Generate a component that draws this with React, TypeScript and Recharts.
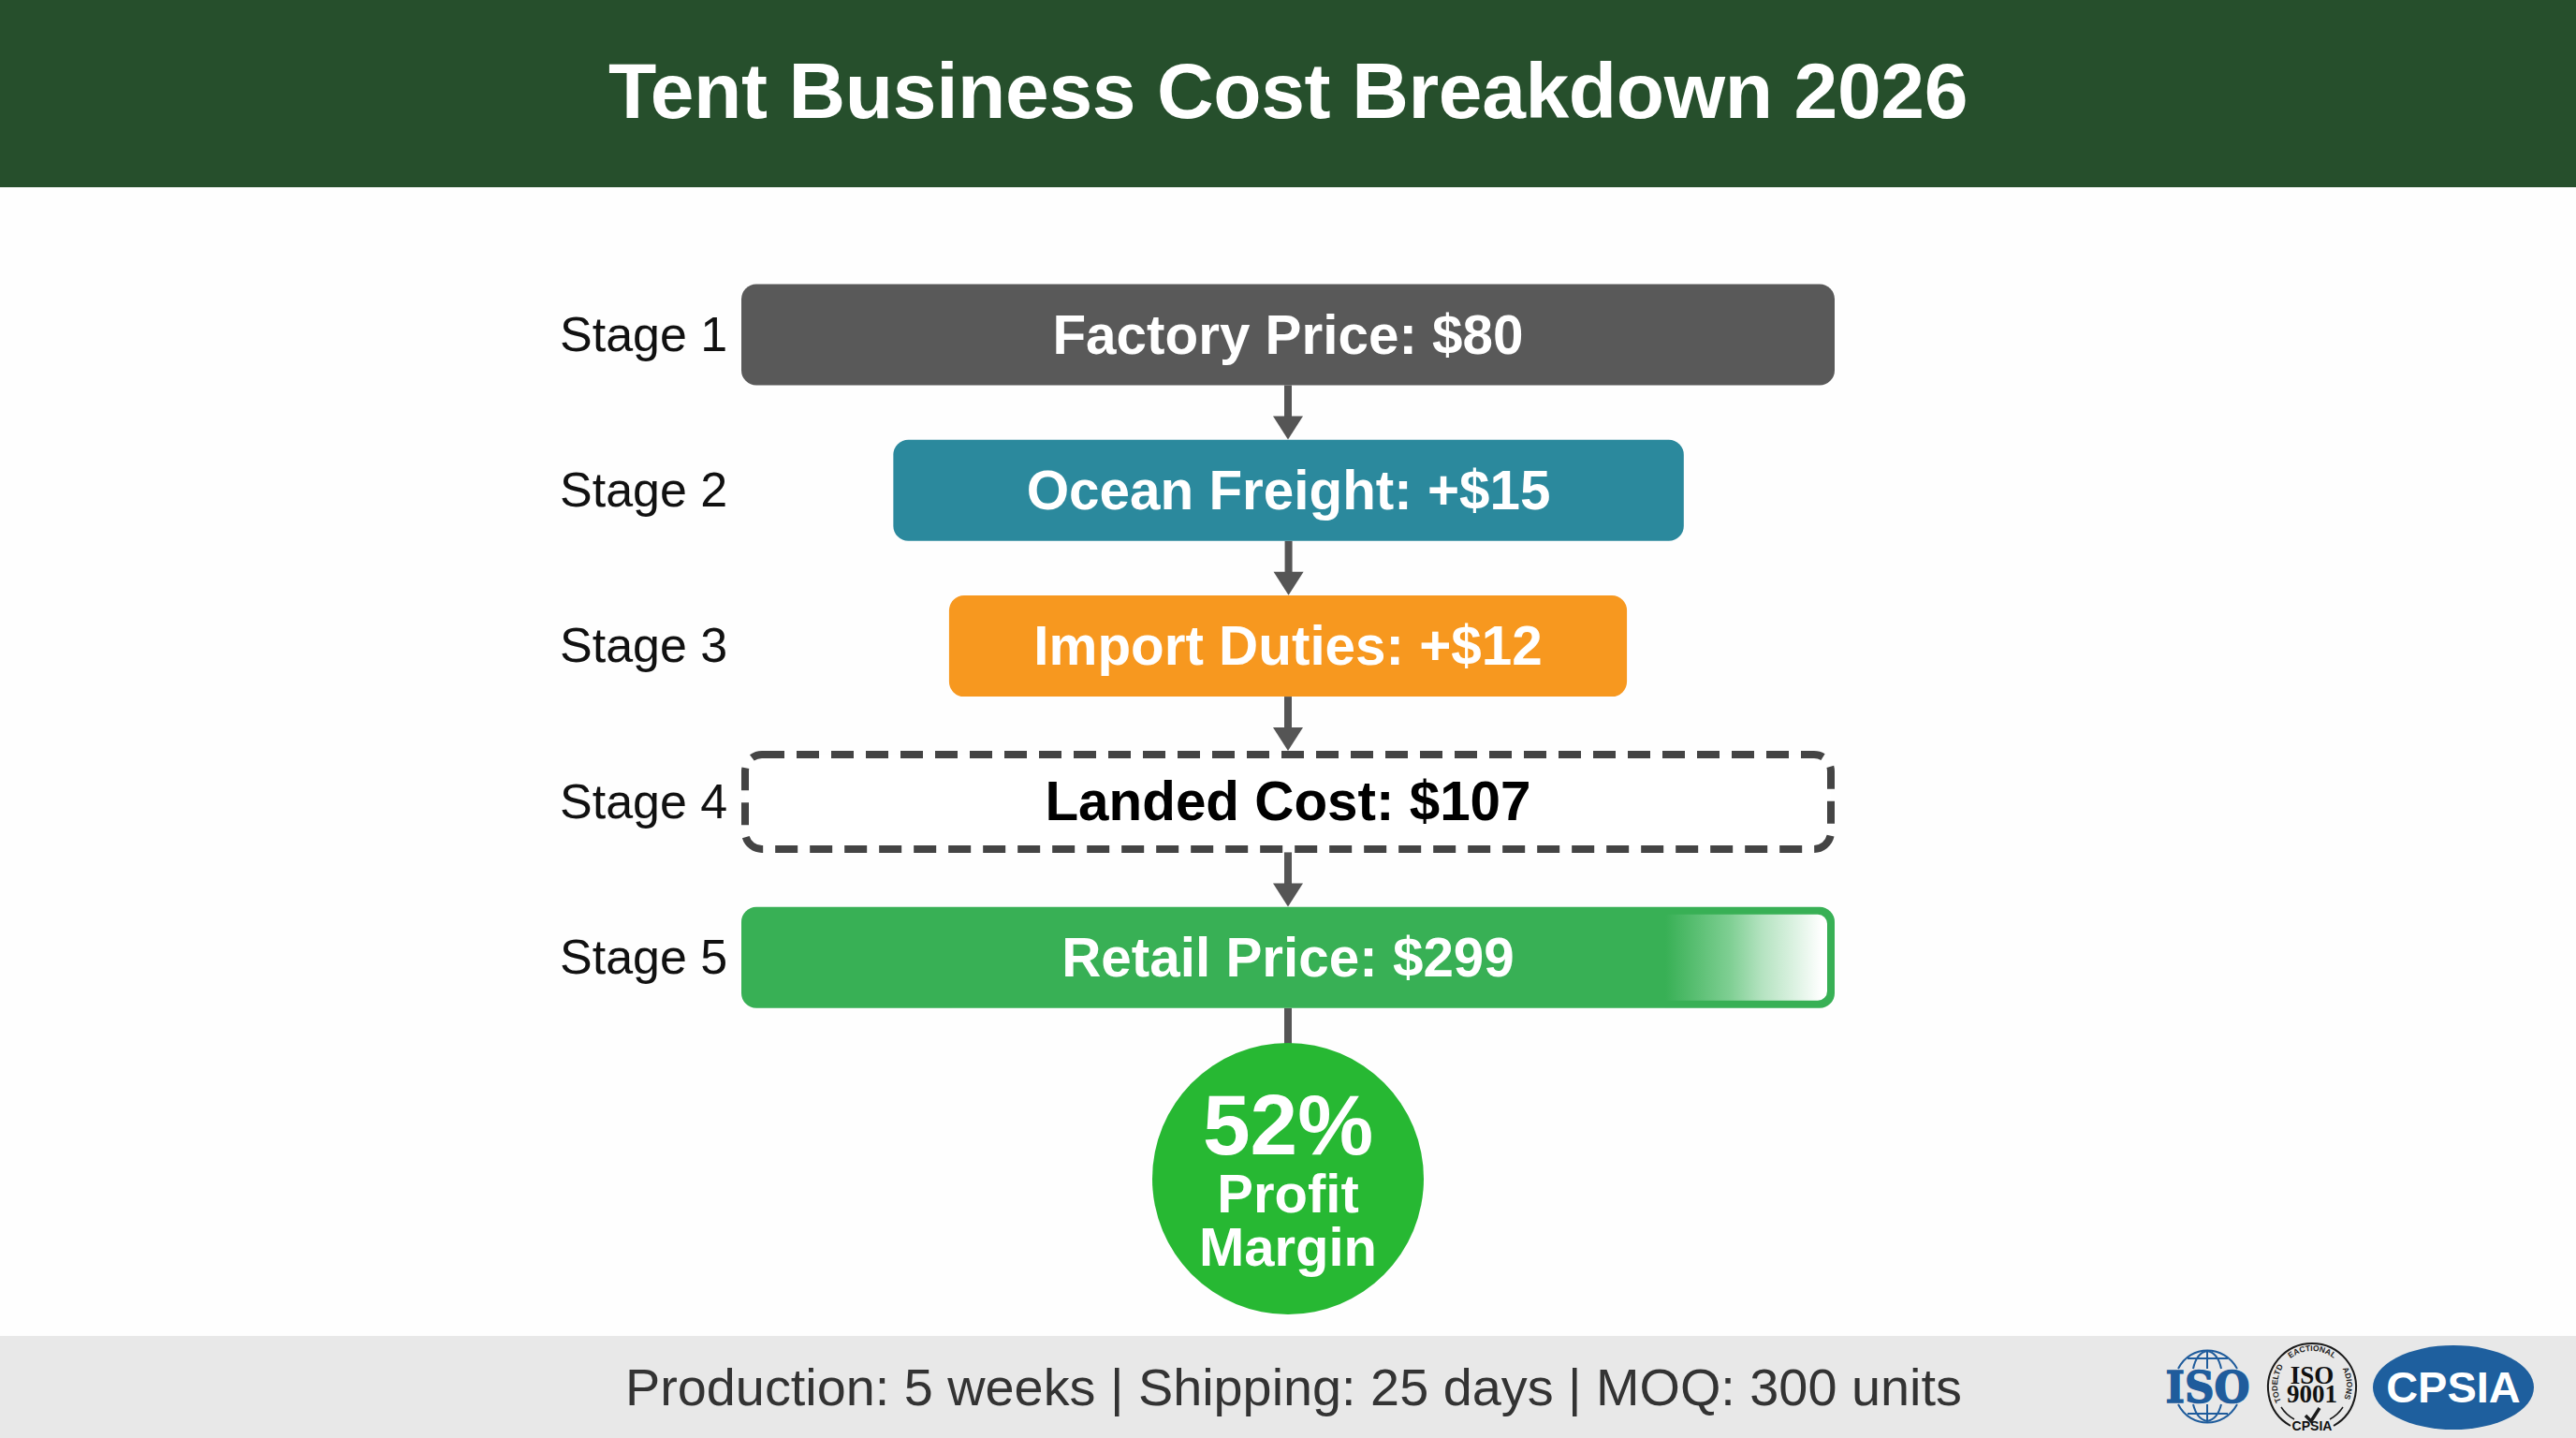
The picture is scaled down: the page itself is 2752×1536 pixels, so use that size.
import React from 'react';
import { BarChart, Bar, XAxis, YAxis, LabelList } from 'recharts';

const stages = ['Stage 1', 'Stage 2', 'Stage 3', 'Stage 4', 'Stage 5'];
const barLabels = ['Factory Price: $80', 'Ocean Freight: +$15', 'Import Duties: +$12', 'Landed Cost: $107', 'Retail Price: $299'];
// bars are centred, so each one runs from barStart to barEnd on a 0-100 scale
const barStart = [0, 13.9, 19, 0, 0];
const barEnd = [100, 86.2, 81, 100, 100];

const chartData = stages.map((stage, i) => ({
  stage,
  label: barLabels[i],
  span: [barStart[i], barEnd[i]],
}));

const FONT = '"Liberation Sans", Arial, sans-serif';
const barFills = ['#595959', '#2b899d', '#f7981f', '#ffffff', '#38b055'];
const labelColors = ['#ffffff', '#ffffff', '#ffffff', '#000000', '#ffffff'];
const LINE = '#555555';
const GAP = 58;

function StageBar(props: any) {
  const { x, y, width, height, index } = props;
  const cx = x + width / 2;
  const bottom = y + height;
  const isLast = index === stages.length - 1;

  return (
    <g>
      {isLast ? (
        <line x1={cx} x2={cx} y1={bottom} y2={bottom + 40} stroke={LINE} strokeWidth={8} />
      ) : (
        <g>
          <line x1={cx} x2={cx} y1={bottom} y2={bottom + GAP - 20} stroke={LINE} strokeWidth={8} />
          <path d={`M${cx - 16} ${bottom + GAP - 25}H${cx + 16}L${cx} ${bottom + GAP}Z`} fill={LINE} />
        </g>
      )}
      {index === 3 ? (
        <rect x={x + 4} y={y + 3.5} width={width - 8} height={height - 7} rx={18} fill="#ffffff"
          stroke="#444444" strokeWidth={8} strokeDasharray="24 13" />
      ) : (
        <rect x={x} y={y} width={width} height={height} rx={16} fill={barFills[index]} />
      )}
      {isLast && (
        <rect x={x + 8} y={y + 8} width={width - 16} height={height - 16} rx={10} fill="url(#retailFade)" />
      )}
    </g>
  );
}

function StageTick(props: any) {
  const { x, y, payload } = props;
  return (
    <text x={x - 186} y={y} dy={17} fontFamily={FONT} fontSize={52} fill="#111111" textAnchor="start">
      {payload.value}
    </text>
  );
}

function BarText(props: any) {
  const { x, y, width, height, value, index } = props;
  return (
    <text x={x + width / 2} y={y + height / 2} dy={20} textAnchor="middle" fontFamily={FONT}
      fontWeight={700} fontSize={58.4} fill={labelColors[index]}>
      {value}
    </text>
  );
}

function IsoLogo() {
  const blue = '#1f5c9c';
  return (
    <svg style={{ position: 'absolute', left: 2300, top: 1430 }} width={120} height={100} viewBox="2300 1430 120 100">
      <g fill="none" stroke={blue} strokeWidth={2}>
        <path d="M2327 1462C2340 1436 2376 1436 2390 1462" />
        <path d="M2343 1462C2346 1448 2352 1444 2358 1443C2364 1444 2370 1448 2373 1462" />
        <path d="M2358 1443V1462M2337 1451H2380" />
        <path d="M2327 1500C2340 1526 2376 1526 2390 1500" />
        <path d="M2343 1500C2346 1512 2352 1517 2358 1518C2364 1517 2370 1512 2373 1500" />
        <path d="M2358 1500V1518M2337 1510H2380" />
      </g>
      <text x={2358.5} y={1498} textAnchor="middle" fontFamily='"DejaVu Serif", serif' fontWeight={700}
        fontSize={47} fill={blue} stroke={blue} strokeWidth={1.5} textLength={90} lengthAdjust="spacingAndGlyphs">ISO</text>
    </svg>
  );
}

function SealLogo() {
  const ringText = { fontFamily: FONT, fontSize: 8.5, fontWeight: 700, fill: '#222222' };
  return (
    <svg style={{ position: 'absolute', left: 2415, top: 1428 }} width={110} height={108} viewBox="2415 1428 110 108">
      <defs>
        <path id="sealLeft" d="M2439.7 1501.2A37 37 0 0 1 2442.5 1455.2" />
        <path id="sealTop" d="M2445.2 1452.5A37 37 0 0 1 2494.8 1452.5" />
        <path id="sealRight" d="M2497.5 1455.2A37 37 0 0 1 2500.3 1501.2" />
      </defs>
      <g fill="none" stroke="#1a1a1a">
        <path d="M2447 1523A47 47 0 1 1 2493 1523" strokeWidth={2} />
        <path d="M2437 1503A38 38 0 0 0 2451 1516M2503 1503A38 38 0 0 1 2489 1516" strokeWidth={1.5} />
        <path d="M2463 1512L2469 1518L2478 1504" strokeWidth={3.5} />
      </g>
      <text {...ringText} textAnchor="middle"><textPath href="#sealLeft" startOffset="50%">TODELTD</textPath></text>
      <text {...ringText} textAnchor="middle"><textPath href="#sealTop" startOffset="50%">EACTIONAL</textPath></text>
      <text {...ringText} textAnchor="middle"><textPath href="#sealRight" startOffset="50%">ADIONS</textPath></text>
      <text x={2470} y={1478} textAnchor="middle" fontFamily='"Liberation Serif", serif' fontSize={27} fontWeight={700} fill="#111111">ISO</text>
      <text x={2470} y={1498} textAnchor="middle" fontFamily='"Liberation Serif", serif' fontSize={27} fontWeight={700} fill="#111111">9001</text>
      <text x={2470} y={1528} textAnchor="middle" fontFamily={FONT} fontSize={14} fontWeight={700} fill="#111111">CPSIA</text>
    </svg>
  );
}

function CpsiaLogo() {
  return (
    <svg style={{ position: 'absolute', left: 2530, top: 1432 }} width={182} height={100} viewBox="2530 1432 182 100">
      <ellipse cx={2621} cy={1482} rx={86} ry={45} fill="#1e5f9e" />
      <text x={2621} y={1498} textAnchor="middle" fontFamily={FONT} fontWeight={700} fontSize={47} fill="#ffffff">CPSIA</text>
    </svg>
  );
}

export default function App() {
  return (
    <div style={{ position: 'absolute', left: 0, top: 0, width: 2752, height: 1536, background: '#fefefe', overflow: 'hidden', fontFamily: FONT }}>
      <div style={{ position: 'absolute', left: 0, top: 0, width: 2752, height: 200, background: '#264f2c', color: '#ffffff', fontSize: 84, fontWeight: 700, letterSpacing: -0.37, lineHeight: '194px', textAlign: 'center' }}>
        Tent Business Cost Breakdown 2026
      </div>

      <div style={{ position: 'absolute', left: 0, top: 0 }}>
        <BarChart width={2752} height={1536} data={chartData} layout="vertical" barSize={108}
          margin={{ top: 274.5, right: 792, bottom: 430, left: 0 }}>
          <defs>
            <linearGradient id="retailFade" x1="0" y1="0" x2="1" y2="0">
              <stop offset="0.85" stopColor="#38b055" />
              <stop offset="0.91" stopColor="#7fcf93" />
              <stop offset="0.94" stopColor="#b5e3c1" />
              <stop offset="0.97" stopColor="#dcf2e2" />
              <stop offset="0.995" stopColor="#ffffff" />
            </linearGradient>
          </defs>
          <XAxis type="number" domain={[0, 100]} hide />
          <YAxis type="category" dataKey="stage" width={792} axisLine={false} tickLine={false} interval={0} tick={<StageTick />} />
          <Bar dataKey="span" shape={<StageBar />} isAnimationActive={false}>
            <LabelList dataKey="label" content={<BarText />} />
          </Bar>
        </BarChart>
      </div>

      <div style={{ position: 'absolute', left: 1231, top: 1114, width: 290, height: 290, borderRadius: '50%', background: '#27b833' }} />
      <svg style={{ position: 'absolute', left: 1231, top: 1114 }} width={290} height={290} viewBox="1231 1114 290 290">
        <text x={1376} y={1233} textAnchor="middle" fontWeight={700} fontSize={91} fill="#ffffff">52%</text>
        <text x={1376} y={1295} textAnchor="middle" fontWeight={700} fontSize={58} fill="#ffffff">Profit</text>
        <text x={1376} y={1352} textAnchor="middle" fontWeight={700} fontSize={58} fill="#ffffff">Margin</text>
      </svg>

      <div style={{ position: 'absolute', left: 0, top: 1427, width: 2752, height: 109, background: '#e8e8e8' }} />
      <div style={{ position: 'absolute', left: 668, top: 1427, width: 1426, height: 109, lineHeight: '109px', fontSize: 55.8, color: '#333333', textAlign: 'center', whiteSpace: 'nowrap' }}>
        Production: 5 weeks | Shipping: 25 days | MOQ: 300 units
      </div>
      <IsoLogo />
      <SealLogo />
      <CpsiaLogo />
    </div>
  );
}
